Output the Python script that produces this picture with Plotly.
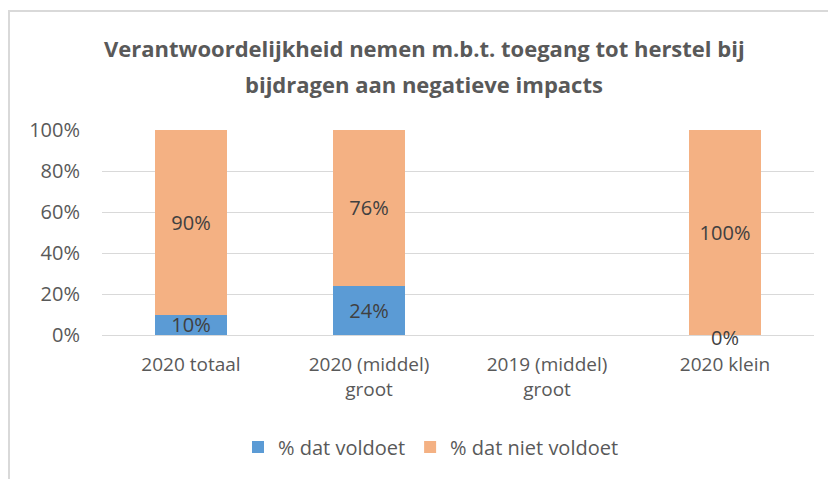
import plotly.graph_objects as go

categories = ["2020 totaal", "2020 (middel)<br>groot", "2019 (middel)<br>groot", "2020 klein"]
voldoet = [10, 24, None, 0]
niet_voldoet = [90, 76, None, 100]
series_names = ["% dat voldoet", "% dat niet voldoet"]
y_ticks = [0, 20, 40, 60, 80, 100]
y_tick_labels = ["0%", "20%", "40%", "60%", "80%", "100%"]
title_lines = ["Verantwoordelijkheid nemen m.b.t. toegang tot herstel bij",
               "bijdragen aan negatieve impacts"]

FONT = "Open Sans"
OFF = 8  # page body margin
W, H = 836 - OFF, 479 - OFF
L, T = 102 - OFF, 130 - OFF
R = W - (814 - OFF)
B = H - (335 - OFF)
PW, PH = W - L - R, H - T - B

def px(x):
    return (x - OFF - L) / PW

def py(y):
    return (H - B - (y - OFF)) / PH

def lbl(v):
    return "" if v is None or v == 0 else f"{v}%"

fig = go.Figure()
fig.add_trace(go.Bar(
    x=categories, y=voldoet, name=series_names[0],
    marker=dict(color="#5B9BD5", line=dict(width=0)),
    text=[lbl(v) for v in voldoet], textposition="inside",
    insidetextanchor="middle", constraintext="none",
    textfont=dict(family=FONT, size=20, color="#404040"),
))
fig.add_trace(go.Bar(
    x=categories, y=niet_voldoet, name=series_names[1],
    marker=dict(color="#F4B183", line=dict(width=0)),
    text=[lbl(v) for v in niet_voldoet], textposition="inside",
    insidetextanchor="middle", constraintext="none",
    textfont=dict(family=FONT, size=20, color="#404040"),
))

# zero-value labels
for c, v in zip(categories, voldoet):
    if v == 0:
        fig.add_annotation(x=c, y=v, xref="x", yref="y", text=f"{v}%",
                           showarrow=False, yanchor="middle", yshift=-2,
                           font=dict(family=FONT, size=20, color="#404040"))

# title
for line, yy in zip(title_lines, [48, 84]):
    fig.add_annotation(x=px(424), y=py(yy), xref="paper", yref="paper",
                       text=f"<b>{line}</b>", showarrow=False,
                       xanchor="center", yanchor="middle",
                       font=dict(family=FONT, size=22, color="#595959"))

# chart frame
fig.add_shape(type="rect", xref="paper", yref="paper",
              x0=px(9), y0=py(500), x1=px(860), y1=py(11),
              line=dict(color="#D9D9D9", width=2), layer="below")

fig.update_layout(
    width=W, height=H,
    margin=dict(l=L, r=R, t=T, b=B, autoexpand=False),
    paper_bgcolor="white", plot_bgcolor="white",
    barmode="stack", bargap=0.6,
    font=dict(family=FONT, size=19, color="#595959"),
    showlegend=True,
    legend=dict(orientation="h", x=px(431), xanchor="center",
                y=py(447), yanchor="middle",
                font=dict(family=FONT, size=20, color="#595959"),
                itemwidth=30, traceorder="normal"),
    xaxis=dict(showgrid=False, showline=False, ticks="",
               ticklabelstandoff=16,
               tickfont=dict(family=FONT, size=19, color="#595959")),
    yaxis=dict(range=[0, 100], tickvals=y_ticks, ticktext=y_tick_labels,
               showgrid=True, gridcolor="#D9D9D9", gridwidth=1.3,
               zeroline=True, zerolinecolor="#D9D9D9", zerolinewidth=1.3,
               showline=False, ticks="", ticklen=0, ticklabelstandoff=21,
               tickfont=dict(family=FONT, size=20, color="#595959")),
)

fig.write_html("out.html")
